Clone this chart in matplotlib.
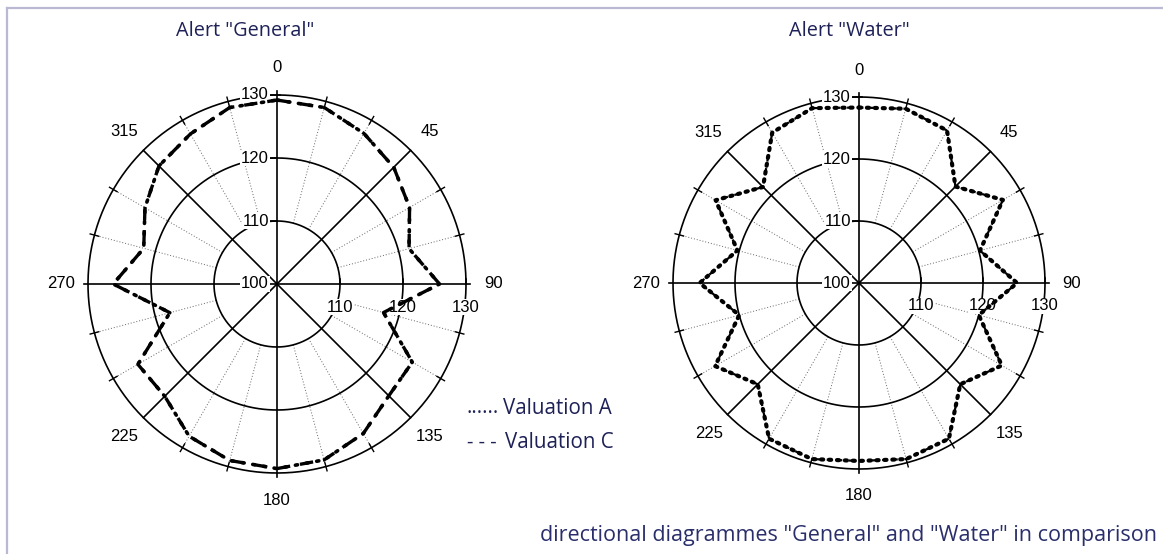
import numpy as np
import matplotlib
matplotlib.use("Agg")
import matplotlib.pyplot as plt
from matplotlib.lines import Line2D

# Werte alle 15 Grad (0 = Norden, im Uhrzeigersinn)
angles_deg = np.arange(0, 360, 15)
general_a = [129.2, 129.0, 127.6, 126.2, 124.3, 121.7, 125.8, 117.5, 124.8, 125.1, 127.4, 128.9,
             129.3, 129.0, 127.9, 125.2, 125.5, 117.6, 126.0, 121.9, 124.2, 126.5, 127.5, 129.0]
general_c = list(general_a)
water_a = [128.3, 129.1, 128.4, 122.0, 126.8, 120.2, 125.5, 120.0, 126.6, 123.1, 129.0, 129.4,
           128.7, 129.4, 129.0, 123.1, 126.8, 120.0, 125.7, 120.3, 126.7, 121.9, 128.0, 129.2]
water_c = list(water_a)

rings = [110, 120, 130]
radial_labels = [100, 110, 120, 130]
compass = [0, 45, 90, 135, 180, 225, 270, 315]

titles = ['Alert "General"', 'Alert "Water"']
legend_a = "Valuation A"
legend_c = "Valuation C"
footer = 'directional diagrammes "General" and "Water" in comparison'

W, H = 1163, 554
navy = "#1e2157"
num_font = "Liberation Sans"
txt_font = "Open Sans"
num_size = 12


def cart(x, y):
    # x, y in radial units from the centre -> (theta, r)
    return np.arctan2(x, y), 100 + np.hypot(x, y)


def seg(ax, p0, p1, **kw):
    t0, r0 = cart(*p0)
    t1, r1 = cart(*p1)
    ax.plot([t0, t1], [r0, r1], clip_on=False, **kw)


def panel(rect, vals_a, vals_c, px, style_a, style_c):
    ax = fig.add_axes(rect, projection="polar")
    ax.set_theta_zero_location("N")
    ax.set_theta_direction(-1)
    ax.set_ylim(100, 130)
    ax.set_axis_off()

    t = np.linspace(0, 2 * np.pi, 500)
    for r in rings:
        ax.plot(t, np.full_like(t, r), color="k", lw=1.2, clip_on=False, zorder=2)

    for a in range(0, 360, 15):
        th = np.deg2rad(a)
        if a % 90 == 0:
            ax.plot([th, th], [100, 130.6], color="k", lw=1.2, clip_on=False, zorder=2)
        elif a % 45 == 0:
            ax.plot([th, th], [100, 130], color="k", lw=1.2, clip_on=False, zorder=2)
        else:
            ax.plot([th, th], [110, 130], color="#666666", lw=0.7, ls=(0, (1, 2)),
                    clip_on=False, zorder=1)
            ax.plot([th, th], [129.3, 130.7], color="k", lw=1.0, clip_on=False, zorder=2)

    # radial scale on the vertical axis
    for r in radial_labels:
        th, rr = cart(-8 / px, r - 100)
        ax.text(th, rr, str(r), ha="right", va="center", fontsize=num_size, family=num_font,
                bbox=dict(boxstyle="square,pad=0.05", fc="white", ec="none"), zorder=3)
        if r > 100:
            seg(ax, (-8 / px, r - 100), ((3 if r == 130 else 0) / px, r - 100),
                color="k", lw=1.2, zorder=2)

    # radial scale on the horizontal axis
    for r in rings:
        th, rr = cart(r - 100, -23 / px)
        ax.text(th, rr, str(r), ha="center", va="center", fontsize=num_size, family=num_font,
                bbox=dict(boxstyle="square,pad=0.05", fc="white", ec="none"), zorder=3)
        seg(ax, (r - 100, 0), (r - 100, 5 / px), color="k", lw=1.2, zorder=2)

    for a in compass:
        ax.text(np.deg2rad(a), 134.3, str(a), ha="center", va="center", fontsize=num_size,
                family=num_font)

    theta = np.deg2rad(np.append(angles_deg, 360))
    ax.plot(theta, np.append(vals_c, vals_c[0]), color="k", clip_on=False, zorder=4, **style_c)
    ax.plot(theta, np.append(vals_a, vals_a[0]), color="k", clip_on=False, zorder=5, **style_a)
    return ax


fig = plt.figure(figsize=(W / 100, H / 100), dpi=100)

# left: centre (277, 284), r = 189 px ; right: centre (859, 283), r = 186 px
panel([(277 - 189) / W, (H - 284 - 189) / H, 378 / W, 378 / H], general_a, general_c, 6.3,
      dict(lw=2.6, ls=(0, (0.6, 2.4)), dash_capstyle="round"),
      dict(lw=2.4, ls=(0, (4, 3))))
panel([(859 - 186) / W, (H - 283 - 186) / H, 372 / W, 372 / H], water_a, water_c, 6.2,
      dict(lw=3.0, ls=(0, (0.5, 1.4)), dash_capstyle="round"),
      dict(lw=1.6, ls=(0, (2, 3))))

# frame
fig.add_artist(Line2D([7 / W, 1], [1 - 8 / H, 1 - 8 / H], transform=fig.transFigure,
                      color="#b9b9d3", lw=1.6))
fig.add_artist(Line2D([7 / W, 7 / W], [0, 1 - 8 / H], transform=fig.transFigure,
                      color="#b9b9d3", lw=1.6))

fig.text(245 / W, 1 - 31 / H, titles[0], ha="center", va="center", fontsize=14.3, color=navy,
         family=txt_font)
fig.text(849 / W, 1 - 31 / H, titles[1], ha="center", va="center", fontsize=14.3, color=navy,
         family=txt_font)

fig.text(467 / W, 1 - 408 / H, "......", ha="left", va="center", fontsize=14.5, color=navy,
         family=txt_font)
fig.text(503 / W, 1 - 408 / H, legend_a, ha="left", va="center", fontsize=14.8, color=navy,
         family=txt_font)
fig.text(467 / W, 1 - 443 / H, "- - -", ha="left", va="center", fontsize=14.5, color=navy,
         family=txt_font)
fig.text(505 / W, 1 - 443 / H, legend_c, ha="left", va="center", fontsize=14.8, color=navy,
         family=txt_font)

fig.text(1157 / W, 1 - 536 / H, footer, ha="right", va="center", fontsize=15.5,
         color="#2a2f6b", family=txt_font)

fig.savefig("out.png", dpi=100)
